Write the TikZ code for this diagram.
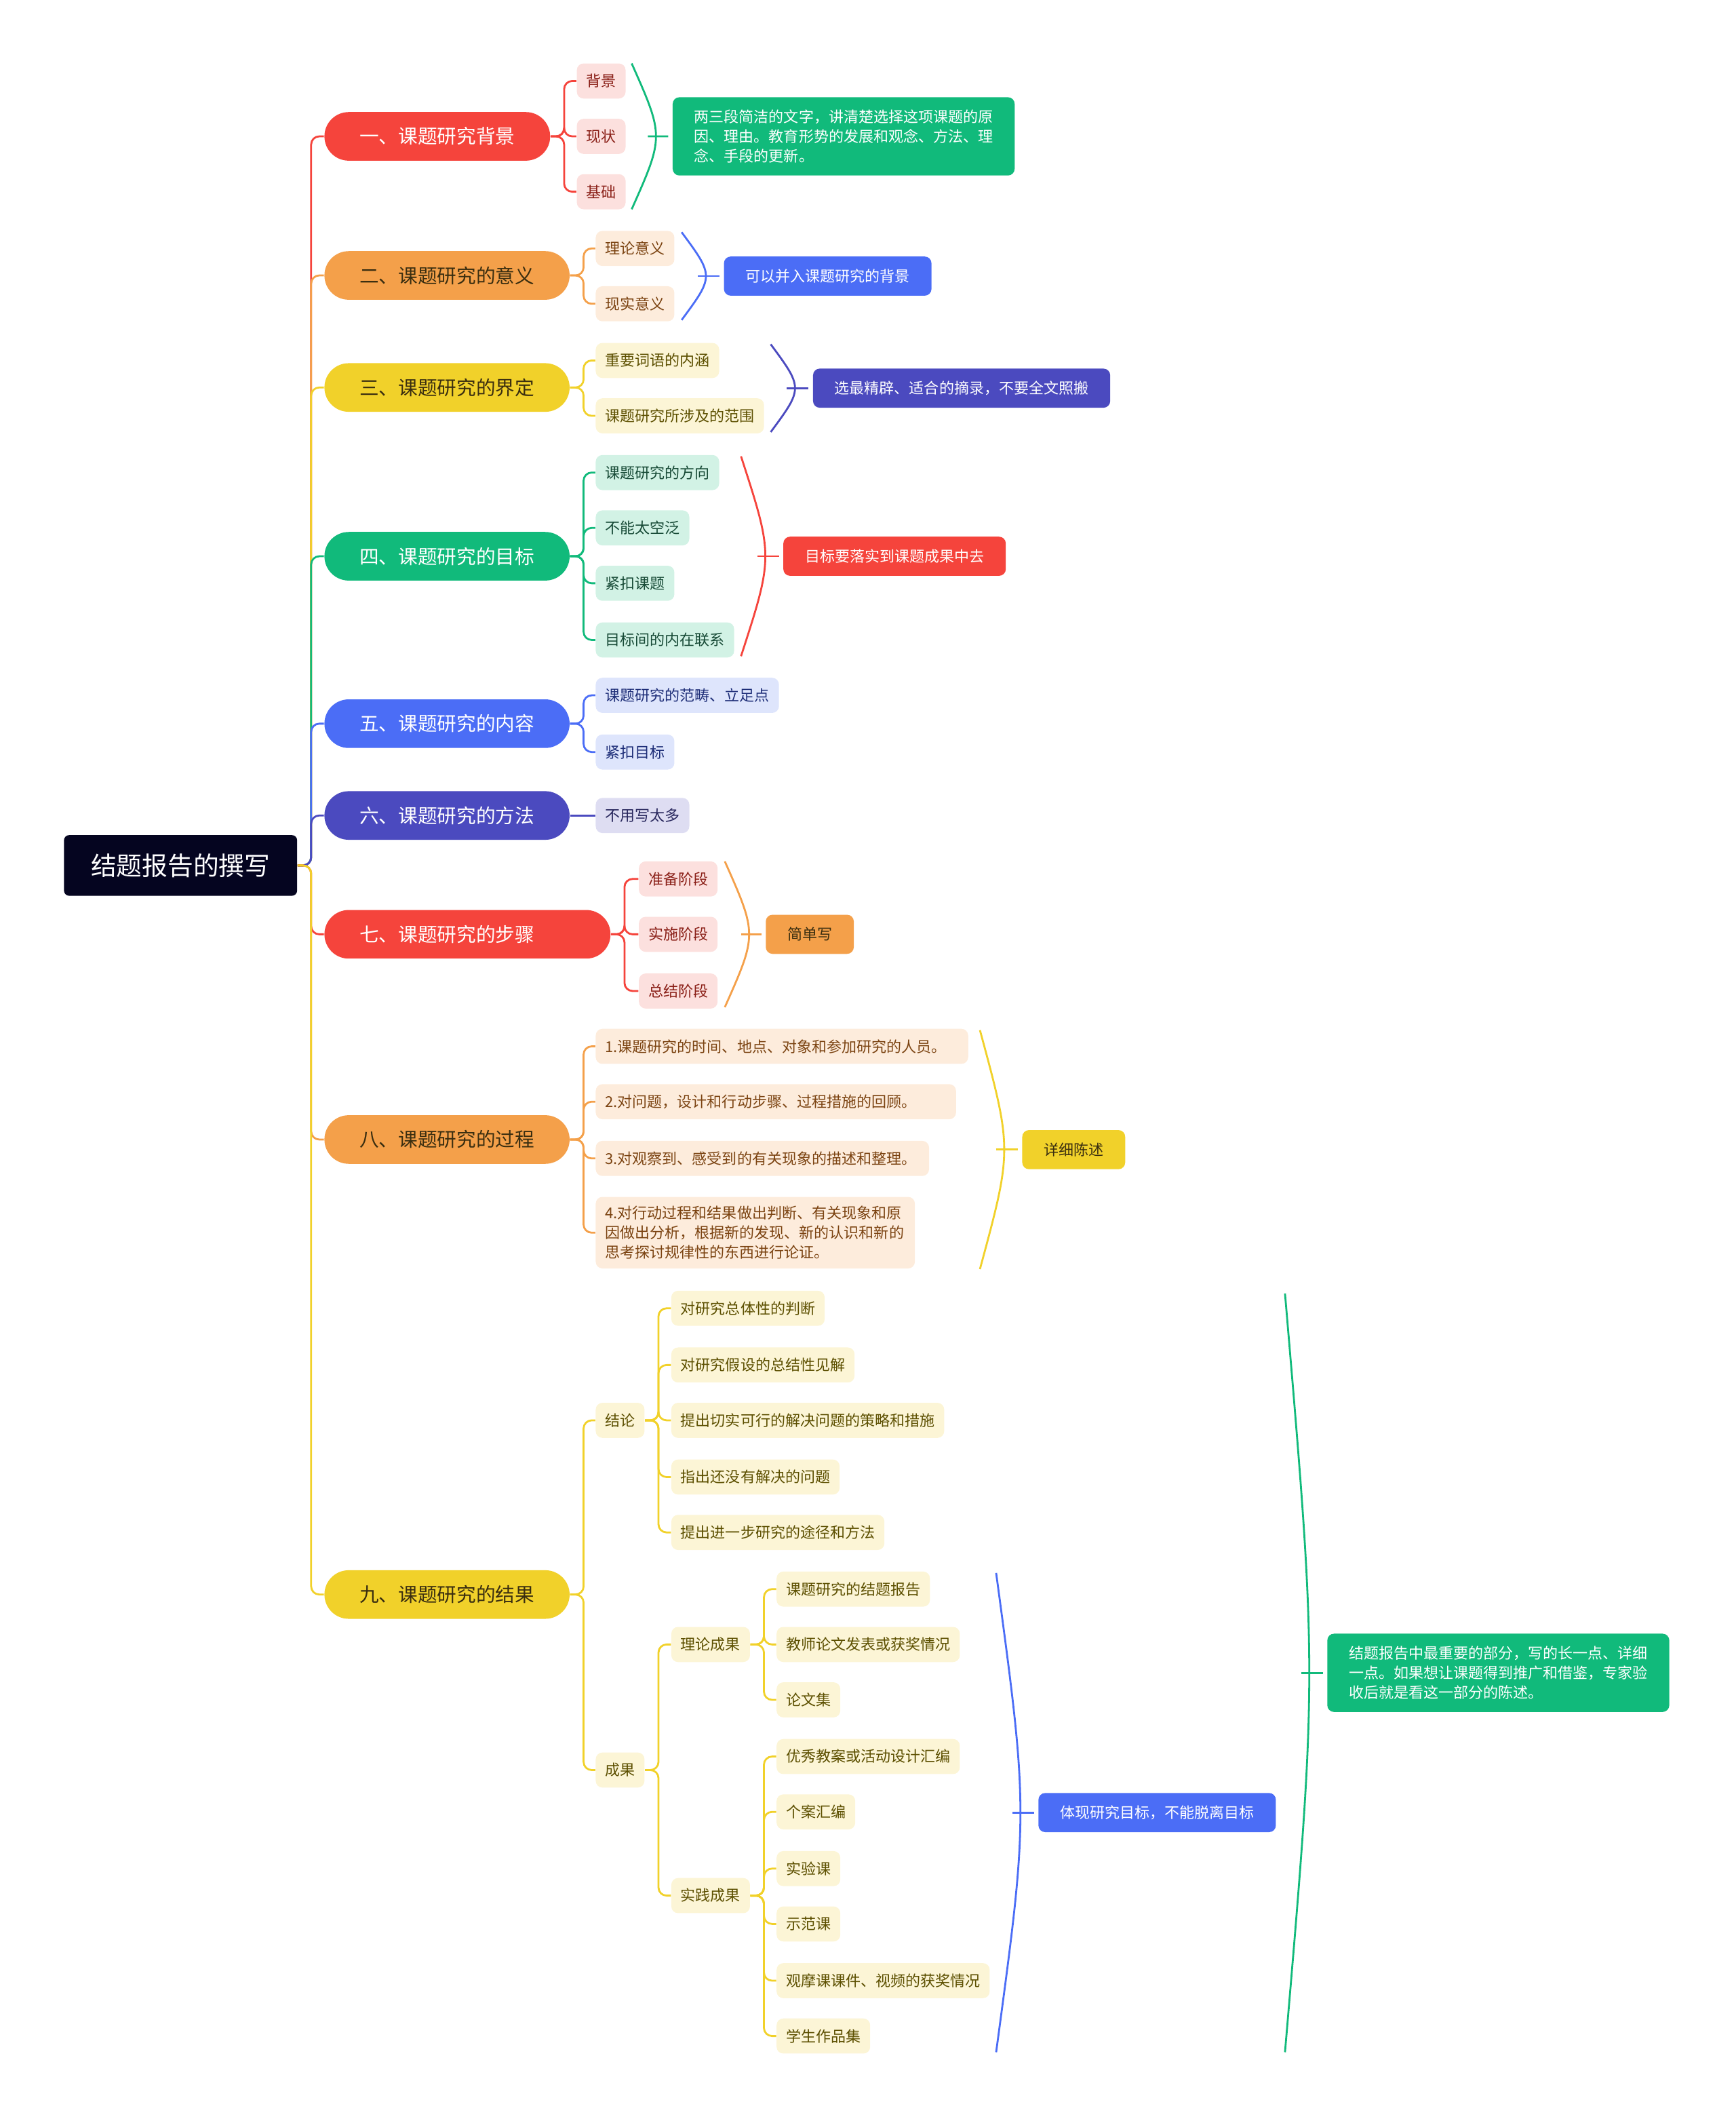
\documentclass[tikz,border=0pt]{standalone}
\usepackage{fontspec}
\setmainfont{Noto Sans CJK SC}
\usetikzlibrary{calc}

\definecolor{cRoot}{HTML}{050520}
\definecolor{cRed}{HTML}{F5443C}
\definecolor{cRedL}{HTML}{FCE0DE}
\definecolor{cRedD}{HTML}{8A1F17}
\definecolor{cOrange}{HTML}{F4A04A}
\definecolor{cOrangeL}{HTML}{FDECDC}
\definecolor{cOrangeD}{HTML}{7B4311}
\definecolor{cYellow}{HTML}{F1D12A}
\definecolor{cYellowL}{HTML}{FCF5D6}
\definecolor{cYellowD}{HTML}{5C4F00}
\definecolor{cGreen}{HTML}{11BA7B}
\definecolor{cGreenL}{HTML}{D2F2E5}
\definecolor{cGreenD}{HTML}{174A36}
\definecolor{cBlue}{HTML}{4B6DF6}
\definecolor{cBlueL}{HTML}{DEE5FC}
\definecolor{cBlueD}{HTML}{1E2E78}
\definecolor{cIndigo}{HTML}{4B4ABF}
\definecolor{cIndigoL}{HTML}{DEDDF2}
\definecolor{cIndigoD}{HTML}{27265C}
\definecolor{cDark}{HTML}{3A2E10}

\tikzset{
  rootbox/.style={fill=cRoot, text=white, anchor=west, rounded corners=0.08cm,
    minimum height=0.9cm, inner xsep=0.4cm, inner ysep=0pt,
    font=\fontsize{10.8pt}{13pt}\selectfont},
  topicbox/.style 2 args={fill=#1, text=#2, anchor=west, rounded corners=0.36cm,
    minimum height=0.72cm, inner xsep=0.52cm, inner ysep=0pt,
    font=\fontsize{8.2pt}{10pt}\selectfont},
  leafbox/.style 2 args={fill=#1, text=#2, anchor=west, rounded corners=0.1cm,
    minimum height=0.52cm, inner xsep=0.14cm, inner ysep=0pt, align=left,
    font=\fontsize{6.3pt}{8.2pt}\selectfont},
  notebox/.style 2 args={fill=#1, text=#2, anchor=west, rounded corners=0.1cm,
    minimum height=0.58cm, inner xsep=0.32cm, inner ysep=0pt, align=left,
    font=\fontsize{6.3pt}{8.2pt}\selectfont},
  leafR/.style={leafbox={cRedL}{cRedD}},
  leafO/.style={leafbox={cOrangeL}{cOrangeD}},
  leafY/.style={leafbox={cYellowL}{cYellowD}},
  leafG/.style={leafbox={cGreenL}{cGreenD}},
  leafB/.style={leafbox={cBlueL}{cBlueD}},
  leafI/.style={leafbox={cIndigoL}{cIndigoD}},
  link/.style={draw=#1, line width=0.8pt, rounded corners=0.12cm},
}

% bracket ")" from top to bottom, with a tick to the note
\newcommand{\capbrace}[4]{%
  \draw[link=#1] (#2) .. controls ($(#2)!0.5!(#3)+(24,0)$) .. (#3);
  \draw[link=#1] ($(#2)!0.5!(#3)+(12,0)$) -- ([xshift=-1.7pt]#4.west);}

\begin{document}
\begin{tikzpicture}[x=0.02cm, y=-0.02cm]
\useasboundingbox (0,0) rectangle (1286,1568);

% root and main topics
\node[rootbox] (root) at (47,641) {结题报告的撰写};
\node[topicbox={cRed}{white}] (t1) at (240,101) {一、课题研究背景};
\node[topicbox={cOrange}{cDark}] (t2) at (240,204) {二、课题研究的意义};
\node[topicbox={cYellow}{cDark}] (t3) at (240,287) {三、课题研究的界定};
\node[topicbox={cGreen}{white}] (t4) at (240,412) {四、课题研究的目标};
\node[topicbox={cBlue}{white}] (t5) at (240,536) {五、课题研究的内容};
\node[topicbox={cIndigo}{white}] (t6) at (240,604) {六、课题研究的方法};
\node[topicbox={cRed}{white}, text width=3.2cm, align=left] (t7) at (240,692) {七、课题研究的步骤};
\node[topicbox={cOrange}{cDark}] (t8) at (240,844) {八、课题研究的过程};
\node[topicbox={cYellow}{cDark}] (t9) at (240,1181) {九、课题研究的结果};

\foreach \t/\c in {t1/cRed,t2/cOrange,t3/cYellow,t4/cGreen,t5/cBlue,t6/cIndigo,t7/cRed,t8/cOrange,t9/cYellow}
  \draw[link=\c] (root.east) -- ++(10,0) |- (\t.west);

% leaves
\foreach \n/\y/\s in {t1a/60/背景,t1b/101/现状,t1c/142/基础}
  \node[leafR] (\n) at (427,\y) {\s};
\foreach \n/\y/\s in {t2a/184/理论意义,t2b/225/现实意义}
  \node[leafO] (\n) at (441,\y) {\s};
\foreach \n/\y/\s in {t3a/267/重要词语的内涵,t3b/308/课题研究所涉及的范围}
  \node[leafY] (\n) at (441,\y) {\s};
\foreach \n/\y/\s in {t4a/350/课题研究的方向,t4b/391/不能太空泛,t4c/432/紧扣课题,t4d/474/目标间的内在联系}
  \node[leafG] (\n) at (441,\y) {\s};
\foreach \n/\y/\s in {t5a/515/课题研究的范畴、立足点,t5b/557/紧扣目标}
  \node[leafB] (\n) at (441,\y) {\s};
\node[leafI] (t6a) at (441,604) {不用写太多};
\foreach \n/\y/\s in {t7a/651/准备阶段,t7b/692/实施阶段,t7c/734/总结阶段}
  \node[leafR] (\n) at (473,\y) {\s};

\node[leafO, text width=5.24cm] (t8a) at (441,775) {1.课题研究的时间、地点、对象和参加研究的人员。};
\node[leafO, text width=5.06cm] (t8b) at (441,816) {2.对问题，设计和行动步骤、过程措施的回顾。};
\node[leafO, text width=4.66cm] (t8c) at (441,858) {3.对观察到、感受到的有关现象的描述和整理。};
\node[leafO, text width=4.45cm, minimum height=1.06cm] (t8d) at (441,913)
  {4.对行动过程和结果做出判断、有关现象和原\\因做出分析，根据新的发现、新的认识和新的\\思考探讨规律性的东西进行论证。};

\node[leafY] (k1) at (441,1052) {结论};
\node[leafY] (k2) at (441,1311) {成果};
\foreach \n/\y/\s in {k1a/969/对研究总体性的判断,k1b/1011/对研究假设的总结性见解,k1c/1052/提出切实可行的解决问题的策略和措施,k1d/1094/指出还没有解决的问题,k1e/1135/提出进一步研究的途径和方法}
  \node[leafY] (\n) at (497,\y) {\s};
\node[leafY] (k2a) at (497,1218) {理论成果};
\node[leafY] (k2b) at (497,1404) {实践成果};
\foreach \n/\y/\s in {p1/1177/课题研究的结题报告,p2/1218/教师论文发表或获奖情况,p3/1259/论文集}
  \node[leafY] (\n) at (575,\y) {\s};
\foreach \n/\y/\s in {q1/1301/优秀教案或活动设计汇编,q2/1342/个案汇编,q3/1384/实验课,q4/1425/示范课,q5/1467/观摩课课件、视频的获奖情况,q6/1508/学生作品集}
  \node[leafY] (\n) at (575,\y) {\s};

% leaf links
\foreach \c in {t1a,t1b,t1c} \draw[link=cRed] (t1.east) -- ++(10,0) |- (\c.west);
\foreach \c in {t2a,t2b} \draw[link=cOrange] (t2.east) -- ++(10,0) |- (\c.west);
\foreach \c in {t3a,t3b} \draw[link=cYellow] (t3.east) -- ++(10,0) |- (\c.west);
\foreach \c in {t4a,t4b,t4c,t4d} \draw[link=cGreen] (t4.east) -- ++(10,0) |- (\c.west);
\foreach \c in {t5a,t5b} \draw[link=cBlue] (t5.east) -- ++(10,0) |- (\c.west);
\draw[link=cIndigo] (t6.east) -- (t6a.west);
\foreach \c in {t7a,t7b,t7c} \draw[link=cRed] (t7.east) -- ++(10,0) |- (\c.west);
\foreach \c in {t8a,t8b,t8c,t8d} \draw[link=cOrange] (t8.east) -- ++(10,0) |- (\c.west);
\foreach \c in {k1,k2} \draw[link=cYellow] (t9.east) -- ++(10,0) |- (\c.west);
\foreach \c in {k1a,k1b,k1c,k1d,k1e} \draw[link=cYellow] (k1.east) -- ++(10,0) |- (\c.west);
\foreach \c in {k2a,k2b} \draw[link=cYellow] (k2.east) -- ++(10,0) |- (\c.west);
\foreach \c in {p1,p2,p3} \draw[link=cYellow] (k2a.east) -- ++(10,0) |- (\c.west);
\foreach \c in {q1,q2,q3,q4,q5,q6} \draw[link=cYellow] (k2b.east) -- ++(10,0) |- (\c.west);

% notes
\node[notebox={cGreen}{white}, minimum height=1.16cm] (n1) at (498,101)
  {两三段简洁的文字，讲清楚选择这项课题的原\\因、理由。教育形势的发展和观念、方法、理\\念、手段的更新。};
\node[notebox={cBlue}{white}] (n2) at (536,204.5) {可以并入课题研究的背景};
\node[notebox={cIndigo}{white}] (n3) at (602,287.5) {选最精辟、适合的摘录，不要全文照搬};
\node[notebox={cRed}{white}] (n4) at (580,412) {目标要落实到课题成果中去};
\node[notebox={cOrange}{cDark}] (n7) at (567,692) {简单写};
\node[notebox={cYellow}{cDark}] (n8) at (757,851.5) {详细陈述};
\node[notebox={cBlue}{white}] (n9) at (769,1342.5) {体现研究目标，不能脱离目标};
\node[notebox={cGreen}{white}, minimum height=1.16cm] (n10) at (983,1239)
  {结题报告中最重要的部分，写的长一点、详细\\一点。如果想让课题得到推广和借鉴，专家验\\收后就是看这一部分的陈述。};

% brackets
\coordinate (b1t) at (468,47);   \coordinate (b1b) at (468,155);
\coordinate (b2t) at (505,172);  \coordinate (b2b) at (505,237);
\coordinate (b3t) at (571,255);  \coordinate (b3b) at (571,320);
\coordinate (b4t) at (549,338);  \coordinate (b4b) at (549,486);
\coordinate (b7t) at (537,638);  \coordinate (b7b) at (537,746);
\coordinate (b8t) at (726,763);  \coordinate (b8b) at (726,940);
\coordinate (b9t) at (738,1165); \coordinate (b9b) at (738,1520);
\coordinate (b10t) at (952,958); \coordinate (b10b) at (952,1520);
\capbrace{cGreen}{b1t}{b1b}{n1}
\capbrace{cBlue}{b2t}{b2b}{n2}
\capbrace{cIndigo}{b3t}{b3b}{n3}
\capbrace{cRed}{b4t}{b4b}{n4}
\capbrace{cOrange}{b7t}{b7b}{n7}
\capbrace{cYellow}{b8t}{b8b}{n8}
\capbrace{cBlue}{b9t}{b9b}{n9}
\capbrace{cGreen}{b10t}{b10b}{n10}
\end{tikzpicture}
\end{document}
